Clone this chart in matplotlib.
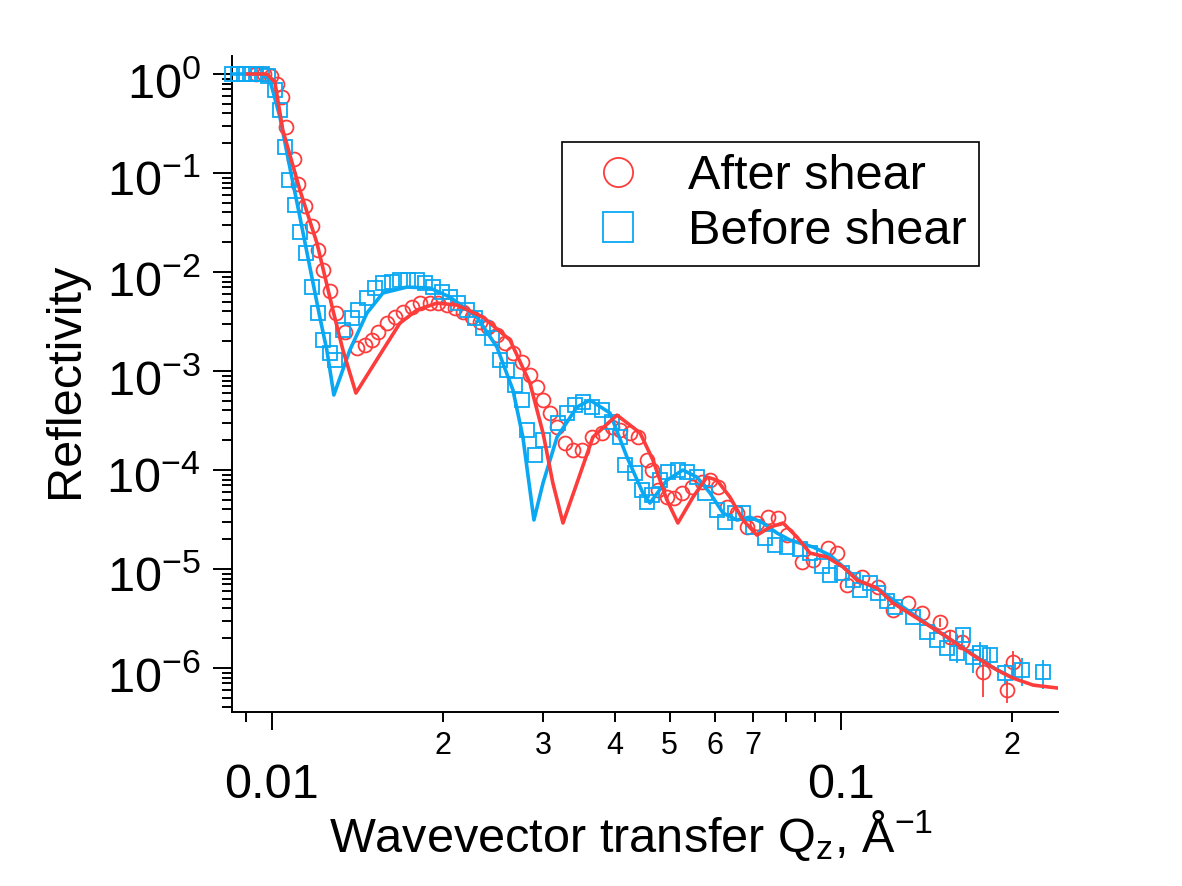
import numpy as np
import matplotlib
matplotlib.use('Agg')
import matplotlib.pyplot as plt
from matplotlib.ticker import FixedLocator, FuncFormatter, NullFormatter
from matplotlib.transforms import ScaledTranslation

plt.rcParams['font.family'] = ['Liberation Sans', 'DejaVu Sans']
plt.rcParams['mathtext.fontset'] = 'custom'
plt.rcParams['mathtext.rm'] = 'Liberation Sans'
plt.rcParams['mathtext.it'] = 'Liberation Sans:italic'

RED = '#fd3c3c'
BLUE = '#0aa8f2'

# measured data: after shear (circles)
after_q = [0.00937, 0.00968, 0.00996, 0.01020, 0.01041, 0.01058, 0.01093, 0.01111, 0.01143, 0.01176,
           0.01204, 0.01229, 0.01264, 0.01296, 0.01344, 0.01410, 0.01457, 0.01499, 0.01536, 0.01593,
           0.01645, 0.01699, 0.01762, 0.01820, 0.01895, 0.01957, 0.02030, 0.02097, 0.02166, 0.02246,
           0.02320, 0.02397, 0.02485, 0.02567, 0.02652, 0.02750, 0.02840, 0.02922, 0.02994, 0.03080,
           0.03169, 0.03273, 0.03381, 0.03506, 0.03651, 0.03802, 0.03958, 0.04089, 0.04258, 0.04398,
           0.04560, 0.04654, 0.04768, 0.04945, 0.05087, 0.05255, 0.05471, 0.05697, 0.05886, 0.06079,
           0.06304, 0.06564, 0.06836, 0.07119, 0.07442, 0.07750, 0.08037, 0.08541, 0.08929, 0.09489,
           0.09840, 0.1025, 0.1089, 0.1161, 0.1234, 0.1311, 0.1388, 0.1493, 0.1555, 0.1632,
           0.1777, 0.1957, 0.2006]
after_r = [1.00, 1.00, 0.954, 0.793, 0.586, 0.2915, 0.1385, 0.0774, 0.0464, 0.0291,
           0.01668, 0.01047, 0.00643, 0.00385, 0.00248, 0.00171, 0.00183, 0.00206, 0.00248, 0.00305,
           0.00351, 0.00394, 0.00443, 0.00486, 0.00486, 0.00486, 0.00464, 0.00433, 0.00394, 0.00351,
           0.00313, 0.00278, 0.00231, 0.00192, 0.00152, 0.00123, 0.000911, 0.000690, 0.000510, 0.000377,
           0.000272, 0.000187, 0.000159, 0.000159, 0.000215, 0.000236, 0.000272, 0.000254, 0.000236, 0.000215,
           0.000126, 0.000100, 6.28e-5, 5.34e-5, 5.21e-5, 5.86e-5, 6.73e-5, 7.56e-5, 7.92e-5, 6.73e-5,
           4.23e-5, 3.68e-5, 2.66e-5, 2.91e-5, 3.35e-5, 3.27e-5, 2.20e-5, 1.18e-5, 1.23e-5, 1.63e-5,
           1.45e-5, 6.89e-6, 8.30e-6, 6.58e-6, 3.85e-6, 4.53e-6, 3.59e-6, 2.91e-6, 2.06e-6, 1.83e-6,
           9.11e-7, 6.0e-7, 1.15e-6]
after_err_tail = [3e-7, 3e-7, 3e-7, 4e-7, 1.6e-7, 3.5e-7]

# measured data: before shear (squares)
before_q = [0.00851, 0.00871, 0.00893, 0.00915, 0.00937, 0.00960, 0.00984, 0.01012, 0.01033, 0.01054,
            0.01071, 0.01098, 0.01120, 0.01148, 0.01176, 0.01204, 0.01229, 0.01264, 0.01290, 0.01333,
            0.01382, 0.01416, 0.01469, 0.01517, 0.01567, 0.01625, 0.01679, 0.01734, 0.01798, 0.01858,
            0.01919, 0.01990, 0.02055, 0.02123, 0.02201, 0.02274, 0.02348, 0.02435, 0.02516, 0.02588,
            0.02673, 0.02750, 0.02806, 0.02900, 0.02994, 0.03181, 0.03300, 0.03408, 0.03521, 0.03651,
            0.03802, 0.03958, 0.04089, 0.04173, 0.04345, 0.04470, 0.04560, 0.04654, 0.04807, 0.04966,
            0.05170, 0.05361, 0.05583, 0.05768, 0.06055, 0.06254, 0.06511, 0.06726, 0.07003, 0.07351,
            0.07656, 0.08037, 0.08471, 0.08822, 0.09260, 0.09565, 0.1004, 0.1050, 0.1080, 0.1125,
            0.1161, 0.1204, 0.1244, 0.1338, 0.1416, 0.1475, 0.1536, 0.1599, 0.1638, 0.1706,
            0.1755, 0.1828, 0.1942, 0.2080, 0.2265]
before_r = [1.0, 1.0, 1.0, 1.0, 1.0, 1.0, 0.954, 0.689, 0.433, 0.183,
            0.0850, 0.0475, 0.0254, 0.01555, 0.00706, 0.00385, 0.00206, 0.00152, 0.00129, 0.00259,
            0.00343, 0.00413, 0.00546, 0.00689, 0.00774, 0.00792, 0.00830, 0.00830, 0.00830, 0.00774,
            0.00706, 0.00628, 0.00559, 0.00486, 0.00413, 0.00343, 0.00272, 0.00215, 0.00129, 0.00102,
            0.000722, 0.000510, 0.000254, 0.000142, 0.000201, 0.000298, 0.000377, 0.000453, 0.000486, 0.000433,
            0.000404, 0.000305, 0.000215, 0.000112, 9.33e-5, 6.28e-5, 4.75e-5, 5.59e-5, 7.92e-5, 9.55e-5,
            1.0e-4, 9.55e-5, 8.50e-5, 5.86e-5, 3.94e-5, 2.98e-5, 3.68e-5, 3.68e-5, 2.66e-5, 2.06e-5,
            1.75e-5, 1.67e-5, 1.59e-5, 1.45e-5, 1.07e-5, 8.70e-6, 9.11e-6, 7.74e-6, 6.14e-6, 7.22e-6,
            5.72e-6, 4.75e-6, 4.13e-6, 3.27e-6, 2.31e-6, 1.92e-6, 1.59e-6, 1.42e-6, 2.15e-6, 1.29e-6,
            1.42e-6, 1.35e-6, 8.90e-7, 9.55e-7, 9.11e-7]
before_err_tail = [3e-7, 3e-7, 4e-7, 4e-7, 3e-7, 2e-7, 3e-7, 3e-7]

# model fits
fit_after_q = [0.00907, 0.0098, 0.01012, 0.01045, 0.01120, 0.01200, 0.01280, 0.01333, 0.01405, 0.01567,
               0.01679, 0.01798, 0.01950, 0.02114, 0.02348, 0.02620, 0.02841, 0.02995, 0.03117, 0.03247,
               0.03436, 0.03665, 0.04040, 0.04436, 0.04673, 0.04945, 0.05169, 0.05495, 0.05814, 0.06055,
               0.06381, 0.06726, 0.07118, 0.07503, 0.07909, 0.08372, 0.08822, 0.09450, 0.1008, 0.1067,
               0.1157, 0.1234, 0.1377, 0.1536, 0.1706, 0.1880, 0.2006, 0.2175, 0.2406]
fit_after_r = [1.0, 1.0, 0.83, 0.272, 0.0673, 0.0196, 0.00413, 0.00163, 0.000600, 0.00163,
               0.00305, 0.00413, 0.00486, 0.00464, 0.00351, 0.00206, 0.000756, 0.000237, 7.39e-5, 2.92e-5,
               7.39e-5, 2.15e-4, 3.59e-4, 2.37e-4, 1.26e-4, 4.98e-5, 2.92e-5, 5.33e-5, 8.49e-5, 7.92e-5,
               5.33e-5, 3.13e-5, 2.20e-5, 2.65e-5, 2.92e-5, 2.10e-5, 1.45e-5, 1.32e-5, 1.05e-5, 7.74e-6,
               6.43e-6, 4.54e-6, 3.05e-6, 2.06e-6, 1.35e-6, 9.55e-7, 7.92e-7, 6.73e-7, 6.28e-7]
fit_before_q = [0.00851, 0.00960, 0.00992, 0.01033, 0.01075, 0.01120, 0.01166, 0.01214, 0.01249, 0.01285,
                0.01371, 0.01469, 0.01567, 0.01727, 0.01896, 0.02055, 0.02292, 0.02485, 0.02652, 0.02761,
                0.02887, 0.02995, 0.03170, 0.03436, 0.03623, 0.03926, 0.04207, 0.04487, 0.04616, 0.04945,
                0.05275, 0.05583, 0.05887, 0.06204, 0.06564, 0.06920, 0.07294, 0.07720, 0.08138, 0.08929,
                0.09565, 0.1016, 0.1080, 0.1171, 0.1270, 0.1434, 0.1619, 0.1828, 0.2006]
fit_before_r = [1.0, 1.0, 0.869, 0.368, 0.115, 0.0360, 0.01124, 0.00351, 0.00163, 0.000573,
                0.00163, 0.00385, 0.00614, 0.00705, 0.00689, 0.00559, 0.00351, 0.00175, 0.000643, 0.000215,
                3.13e-5, 7.39e-5, 2.15e-4, 4.33e-4, 5.09e-4, 3.77e-4, 1.35e-4, 5.86e-5, 4.64e-5, 7.92e-5,
                1.0e-4, 8.49e-5, 5.86e-5, 3.68e-5, 3.13e-5, 3.35e-5, 2.92e-5, 2.31e-5, 1.96e-5, 1.67e-5,
                1.38e-5, 1.02e-5, 7.57e-6, 6.14e-6, 4.33e-6, 2.66e-6, 1.67e-6, 1.05e-6, 7.92e-7]

x_major = [0.01, 0.1]
x_minor = [0.009, 0.02, 0.03, 0.04, 0.05, 0.06, 0.07, 0.08, 0.09, 0.2]
x_minor_labelled = [2, 3, 4, 5, 6, 7]
y_exponents = [0, -1, -2, -3, -4, -5, -6]

fig = plt.figure(figsize=(11.82, 8.86), dpi=100)
ax = fig.add_axes([232 / 1182, 1 - 712 / 886, 826 / 1182, 656 / 886])

ax.plot(after_q, after_r, 'o', mfc='none', mec=RED, ms=10, mew=1.3,
        label='After shear', clip_on=False, zorder=2)
ax.plot(before_q, before_r, 's', mfc='none', mec=BLUE, ms=10, mew=1.3,
        label='Before shear', clip_on=False, zorder=3)
na, nb = len(after_err_tail), len(before_err_tail)
ax.errorbar(after_q[-na:], after_r[-na:], yerr=after_err_tail, fmt='none',
            ecolor=RED, elinewidth=1.3, capsize=0, zorder=2)
ax.errorbar(before_q[-nb:], before_r[-nb:], yerr=before_err_tail, fmt='none',
            ecolor=BLUE, elinewidth=1.3, capsize=0, zorder=3)
ax.plot(fit_before_q, fit_before_r, color=BLUE, lw=2.6, zorder=4)
ax.plot(fit_after_q, fit_after_r, color=RED, lw=2.6, zorder=5)

ax.set_xscale('log')
ax.set_yscale('log')
ax.set_xlim(0.00851, 0.2406)
ax.set_ylim(3.6e-7, 1.52)

for s in ['top', 'right']:
    ax.spines[s].set_visible(False)
for s in ['left', 'bottom']:
    ax.spines[s].set_linewidth(1.4)

ax.xaxis.set_major_locator(FixedLocator(x_major))
ax.xaxis.set_minor_locator(FixedLocator(x_minor))
ax.xaxis.set_major_formatter(FuncFormatter(lambda v, p: '%g' % v))


def minor_fmt(v, p):
    m = int(round(v / 10 ** np.floor(np.log10(v) + 1e-9)))
    if v > 0.0095 and m in x_minor_labelled:
        return str(m)
    return ''


ax.xaxis.set_minor_formatter(FuncFormatter(minor_fmt))

# decades on y, with 2..9 minor ticks inside the visible range
y_major = [10.0 ** e for e in y_exponents]
y_minor = [m * 10.0 ** e for e in range(-7, 1) for m in range(2, 10)]
y_minor = [v for v in y_minor if 3.6e-7 <= v <= 1.52]
ax.yaxis.set_major_locator(FixedLocator(y_major))
ax.yaxis.set_minor_locator(FixedLocator(y_minor))
ax.yaxis.set_minor_formatter(NullFormatter())
ax.yaxis.set_major_formatter(FuncFormatter(
    lambda v, p: r'$\mathregular{10^{%d}}$' % int(round(np.log10(v)))))

ax.tick_params(axis='y', which='major', direction='out', length=13.5, width=1.4,
               labelsize=35, pad=9)
ax.tick_params(axis='y', which='minor', direction='out', length=7, width=1.4)
ax.tick_params(axis='x', which='major', direction='out', length=13, width=1.4,
               labelsize=35, pad=24)
ax.tick_params(axis='x', which='minor', direction='out', length=7, width=1.4,
               labelsize=22, pad=7)

# nudge the y labels a little down, as in the original
shift = ScaledTranslation(0, -4 / 72, fig.dpi_scale_trans)
for lbl in ax.yaxis.get_majorticklabels():
    lbl.set_transform(lbl.get_transform() + shift)

fig.text(631 / 1182, 1 - 852 / 886,
         r'Wavevector transfer Q$_\mathregular{z}$, Å$^\mathregular{-1}$',
         fontsize=35, ha='center', va='baseline')
fig.text(66 / 1182, 1 - 380 / 886, 'Reflectivity', fontsize=35,
         rotation=90, ha='center', va='center')

leg = ax.legend(loc='upper left', bbox_to_anchor=(0.3995, 0.869), borderaxespad=0,
                fontsize=35, markerscale=2.1, frameon=True, fancybox=False,
                edgecolor='black', framealpha=1, borderpad=0.25, labelspacing=0.21,
                handlelength=1.8, handletextpad=0.54)
leg.get_frame().set_linewidth(1.2)

fig.savefig('out.png', dpi=100, facecolor='white')
